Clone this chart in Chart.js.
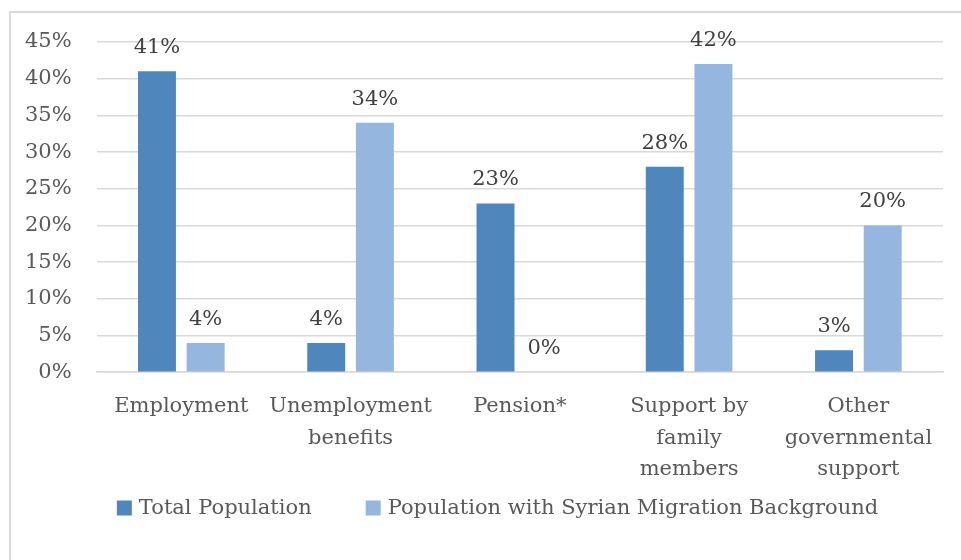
<!DOCTYPE html>
<html>
<head>
<meta charset="utf-8">
<script src="https://cdn.jsdelivr.net/npm/chart.js@4/dist/chart.umd.min.js"></script>
<style>
  body { margin: 0; background: #fff; }
  #wrap { position: relative; width: 961px; height: 560px; overflow: hidden; }
  #frame { position: absolute; left: 9px; top: 11px; width: 1000px; height: 600px;
           border-left: 2px solid #d9d9d9; border-top: 2px solid #d9d9d9; }
  canvas { position: absolute; left: 0; top: 0; }
</style>
</head>
<body>
<div id="wrap">
  <div id="frame"></div>
  <canvas id="chart" width="961" height="560"></canvas>
</div>
<script>
// 收入来源分类
const categories = [
    ['Employment'],
    ['Unemployment', 'benefits'],
    ['Pension*'],
    ['Support by', 'family', 'members'],
    ['Other', 'governmental', 'support']
];

// 两组人群的占比 (%)
const totalPopulation = [41, 4, 23, 28, 3];
const syrianBackground = [4, 34, 0, 42, 20];

const seriesNames = ['Total Population', 'Population with Syrian Migration Background'];
const yTicks = [0, 5, 10, 15, 20, 25, 30, 35, 40, 45];

const FONT = 'DejaVu Serif';
const TEXT_FONT = '21px "' + FONT + '"';

// 在柱子上方绘制百分比
const valueLabels = {
    id: 'valueLabels',
    afterDatasetsDraw(chart) {
        const ctx = chart.ctx;
        ctx.save();
        ctx.font = TEXT_FONT;
        ctx.fillStyle = '#404040';
        ctx.textAlign = 'center';
        ctx.textBaseline = 'alphabetic';
        chart.data.datasets.forEach((ds, i) => {
            chart.getDatasetMeta(i).data.forEach((bar, j) => {
                ctx.fillText(ds.data[j] + '%', bar.x, bar.y - 18);
            });
        });
        ctx.restore();
    }
};

// 底部图例：自己画，方便控制间距
const bottomLegend = {
    id: 'bottomLegend',
    afterDraw(chart) {
        const ctx = chart.ctx;
        const box = 15, boxGap = 7, itemGap = 54;
        const y = chart.height - 52;
        ctx.save();
        ctx.font = TEXT_FONT;
        ctx.textBaseline = 'middle';
        ctx.textAlign = 'left';
        const items = chart.data.datasets.map(ds => ({
            text: ds.label,
            color: ds.backgroundColor,
            w: box + boxGap + ctx.measureText(ds.label).width
        }));
        const total = items.reduce((s, it) => s + it.w, 0) + itemGap * (items.length - 1);
        let x = (chart.width - total) / 2 + 17;
        items.forEach(it => {
            ctx.fillStyle = it.color;
            ctx.fillRect(x, y - box / 2, box, box);
            ctx.fillStyle = '#595959';
            ctx.fillText(it.text, x + box + boxGap, y + 1);
            x += it.w + itemGap;
        });
        ctx.restore();
    }
};

const ctx = document.getElementById('chart').getContext('2d');
new Chart(ctx, {
    type: 'bar',
    data: {
        labels: categories,
        datasets: [{
            label: seriesNames[0],
            data: totalPopulation,
            backgroundColor: '#4f87bd'
        }, {
            label: seriesNames[1],
            data: syrianBackground,
            backgroundColor: '#95b7df'
        }]
    },
    options: {
        responsive: false,
        animation: false,
        categoryPercentage: 0.575,
        barPercentage: 0.78,
        layout: {
            padding: { left: 0, right: 18, top: 42, bottom: 64 }
        },
        plugins: {
            legend: { display: false },
            tooltip: { enabled: false }
        },
        scales: {
            x: {
                grid: { display: false },
                border: { display: true, color: '#d9d9d9', width: 1.5 },
                ticks: {
                    color: '#595959',
                    padding: 10,
                    maxRotation: 0,
                    autoSkip: false,
                    font: { family: FONT, size: 21, lineHeight: 1.52 }
                }
            },
            y: {
                min: 0,
                max: 45,
                afterBuildTicks(scale) {
                    scale.ticks = yTicks.map(v => ({ value: v }));
                },
                grid: { color: '#d9d9d9', lineWidth: 1.5, drawTicks: false },
                border: { display: false },
                ticks: {
                    color: '#595959',
                    padding: 25,
                    font: { family: FONT, size: 21 },
                    callback: v => v + '%'
                }
            }
        }
    },
    plugins: [valueLabels, bottomLegend]
});
</script>
</body>
</html>
